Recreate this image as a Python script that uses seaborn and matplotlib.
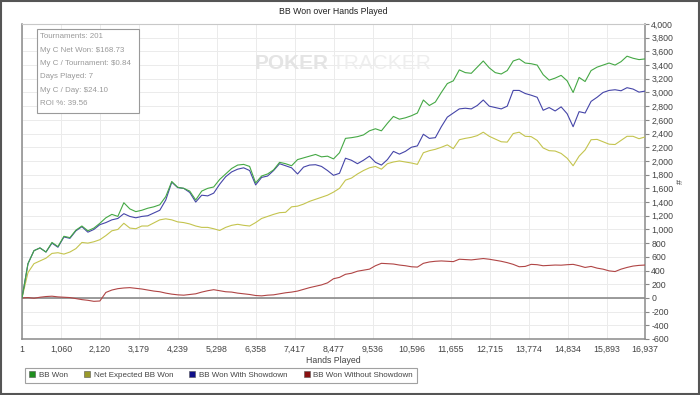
"""BB won over hands played (PokerTracker style graph)."""

import matplotlib

matplotlib.use("Agg")
import matplotlib.pyplot as plt
import numpy as np
import pandas as pd
import seaborn as sns
from matplotlib.lines import Line2D
from matplotlib.patches import Rectangle
from matplotlib.ticker import FuncFormatter

# x sample grid (hands) shared by every series
hands = np.linspace(1, 16937, 105)

bb_won = [
    0, 500, 690, 730, 670, 810, 750, 900, 880, 990,
    1050, 980, 1020, 1090, 1170, 1220, 1190, 1390, 1300, 1260,
    1280, 1310, 1330, 1360, 1480, 1700, 1615, 1600, 1560, 1430,
    1560, 1600, 1620, 1730, 1810, 1890, 1940, 1950, 1920, 1680,
    1780, 1810, 1870, 1980, 1960, 1930, 2020, 2045, 2070, 2095,
    2060, 2070, 2030, 2120, 2330, 2340, 2355, 2380, 2440, 2470,
    2440, 2550, 2650, 2610, 2630, 2660, 2700, 2890, 2810, 2860,
    3000, 3130, 3170, 3330, 3290, 3280, 3370, 3460, 3360, 3290,
    3270, 3320, 3460, 3490, 3430, 3420, 3400, 3260, 3180, 3210,
    3250, 3170, 3000, 3220, 3160, 3320, 3370, 3400, 3430, 3400,
    3450, 3530, 3500, 3480, 3490,
]

net_expected = [
    0, 370, 500, 540, 580, 650, 660, 640, 670, 720,
    810, 800, 820, 850, 910, 980, 1000, 1090, 1020, 1010,
    1050, 1050, 1095, 1140, 1155, 1140, 1110, 1100, 1080, 1050,
    1030, 1030, 1010, 985, 1030, 1060, 1075, 1060, 1050, 1100,
    1160, 1190, 1220, 1245, 1250, 1330, 1340, 1370, 1410, 1440,
    1470, 1500, 1545, 1600, 1720, 1750, 1810, 1860, 1900, 1920,
    1880, 1960, 1985, 2000, 1985, 1970, 1950, 2120, 2150, 2170,
    2200, 2235, 2180, 2310, 2330, 2345, 2370, 2420, 2360, 2320,
    2280, 2275, 2400, 2420, 2360, 2355, 2300, 2190, 2150, 2145,
    2110, 2040, 1930, 2070, 2160, 2310, 2315, 2280, 2245, 2240,
    2300, 2360, 2360, 2325, 2350,
]

with_showdown = [
    0, 500, 690, 730, 670, 800, 740, 890, 870, 980,
    1040, 960, 1000, 1070, 1100, 1140, 1160, 1230, 1190, 1170,
    1190, 1200, 1240, 1280, 1430, 1690, 1610, 1600, 1540, 1400,
    1500, 1490, 1530, 1660, 1770, 1840, 1880, 1900, 1860, 1650,
    1760, 1780, 1860, 1960, 1930, 1900, 1810, 1910, 1940, 1945,
    1920, 1860, 1790, 1820, 2040, 2010, 1960, 2010, 2070, 1980,
    1940, 2020, 2140, 2100, 2140, 2200, 2220, 2390, 2330, 2340,
    2500, 2640, 2700, 2760, 2770, 2760, 2810, 2890, 2800, 2780,
    2760, 2800, 3030, 3030, 2985, 2960, 2930, 2740, 2780, 2730,
    2790, 2690, 2500, 2720, 2700, 2870, 2930, 3000, 3030, 3040,
    3025, 3070, 3050, 3005, 3020,
]

without_showdown = [
    0, 5, -5, 10, 20, 25, 15, 10, 5, -10,
    -25, -35, -50, -45, 80, 115, 135, 145, 150, 140,
    130, 115, 100, 90, 70, 55, 45, 40, 50, 60,
    85, 105, 120, 105, 90, 85, 70, 60, 50, 35,
    30, 40, 45, 60, 75, 85, 100, 125, 150, 170,
    190, 220, 280, 300, 345, 360, 390, 405, 420, 470,
    505, 500, 495, 480, 470, 455, 450, 505, 525, 535,
    540, 535, 530, 565, 560, 555, 565, 575, 565, 550,
    535, 515, 490, 455, 460, 490, 485, 470, 475, 480,
    478, 485, 490, 470, 445, 460, 435, 420, 395, 385,
    420, 445, 465, 475, 480,
]

series_names = [
    "BB Won",
    "Net Expected BB Won",
    "BB Won With Showdown",
    "BB Won Without Showdown",
]
line_colors = ["#45a845", "#c4c44e", "#4545a8", "#b04545"]
legend_colors = ["#1f8f1f", "#99992a", "#10108a", "#8a1010"]

x_ticks = [1, 1060, 2120, 3179, 4239, 5298, 6358, 7417, 8477,
           9536, 10596, 11655, 12715, 13774, 14834, 15893, 16937]
y_ticks = list(range(-600, 4001, 200))

stats_lines = [
    "Tournaments: 201",
    "My C Net Won: $168.73",
    "My C / Tournament: $0.84",
    "Days Played: 7",
    "My C / Day: $24.10",
    "ROI %: 39.56",
]

df = pd.concat(
    [
        pd.DataFrame({"hands": hands, "value": vals, "series": name})
        for name, vals in zip(
            series_names, [bb_won, net_expected, with_showdown, without_showdown]
        )
    ],
    ignore_index=True,
)

sns.set_style("white")
plt.rcParams["font.family"] = ["Liberation Sans", "DejaVu Sans"]

text_col = "#444444"
fig = plt.figure(figsize=(7, 3.95), dpi=100)
ax = fig.add_axes([22 / 700, 1 - 339 / 395, 623 / 700, 315 / 395])

# draw order: red, yellow, blue, green on top
order = [3, 1, 2, 0]
for i in order:
    sub = df[df["series"] == series_names[i]]
    sns.lineplot(data=sub, x="hands", y="value", color=line_colors[i],
                 linewidth=0.8, ax=ax, legend=False, zorder=3 + order.index(i))

ax.axhline(0, color="#8a8a8a", linewidth=1.2, zorder=2)

ax.set_xlim(1, 16937)
ax.set_ylim(-600, 4000)
ax.set_xticks(x_ticks)
ax.set_yticks(y_ticks)
ax.xaxis.set_major_formatter(FuncFormatter(lambda v, p: f"{v:,.0f}"))
ax.yaxis.set_major_formatter(FuncFormatter(lambda v, p: f"{v:,.0f}"))
ax.yaxis.tick_right()
ax.yaxis.set_label_position("right")
ax.tick_params(axis="both", labelsize=6.3, labelcolor=text_col, color="#888888",
               length=3, width=0.8, pad=1.5)
ax.grid(True, color="#ebebeb", linewidth=0.7)
ax.set_axisbelow(True)

for side in ["left", "bottom", "right"]:
    ax.spines[side].set_color("#8a8a8a")
    ax.spines[side].set_linewidth(1.1)
ax.spines["top"].set_color("#c8c8c8")
ax.spines["top"].set_linewidth(0.8)

ax.set_xlabel("Hands Played", fontsize=6.3, color=text_col, labelpad=1)
ax.set_ylabel("#", fontsize=6.5, color=text_col, labelpad=2)
ax.set_title("BB Won over Hands Played", fontsize=6.3, color="#222222", pad=7)

# watermark
ax.text(0.374, 0.875, "POKER", transform=ax.transAxes, fontsize=15,
        fontweight="bold", color="#e4e4e4", ha="left", va="center", zorder=1)
ax.text(0.497, 0.875, "TRACKER", transform=ax.transAxes, fontsize=15,
        color="#eeeeee", ha="left", va="center", zorder=1)

# stats box
fig.patches.append(Rectangle((37 / 700, 1 - 113 / 395), 102 / 700, 84 / 395,
                             transform=fig.transFigure, facecolor="white",
                             edgecolor="#9a9a9a", linewidth=0.8, zorder=5))
for k, line in enumerate(stats_lines):
    fig.text(40 / 700, 1 - (37 + k * 13.3) / 395, line, fontsize=5.7,
             color="#9a9a9a", ha="left", va="center", zorder=6)

# legend with square markers
handles = [
    Line2D([], [], linestyle="none", marker="s", markersize=5,
           markerfacecolor=c, markeredgecolor="#555555", markeredgewidth=0.4)
    for c in legend_colors
]
leg = fig.legend(handles, series_names, ncol=4, loc="center left",
                 bbox_to_anchor=(21 / 700, 1 - 375.5 / 395), fontsize=5.8,
                 frameon=True, fancybox=False, edgecolor="#8a8a8a",
                 handlelength=0.8, handletextpad=0.4, columnspacing=2.0,
                 borderpad=0.5, labelcolor=text_col)
leg.get_frame().set_linewidth(0.8)

# outer frame of the picture
fig.patches.append(Rectangle((0.001, 0.002), 0.997, 0.996, transform=fig.transFigure,
                             fill=False, edgecolor="#555555", linewidth=1.5))

fig.savefig("out.png", dpi=100, facecolor="white")
